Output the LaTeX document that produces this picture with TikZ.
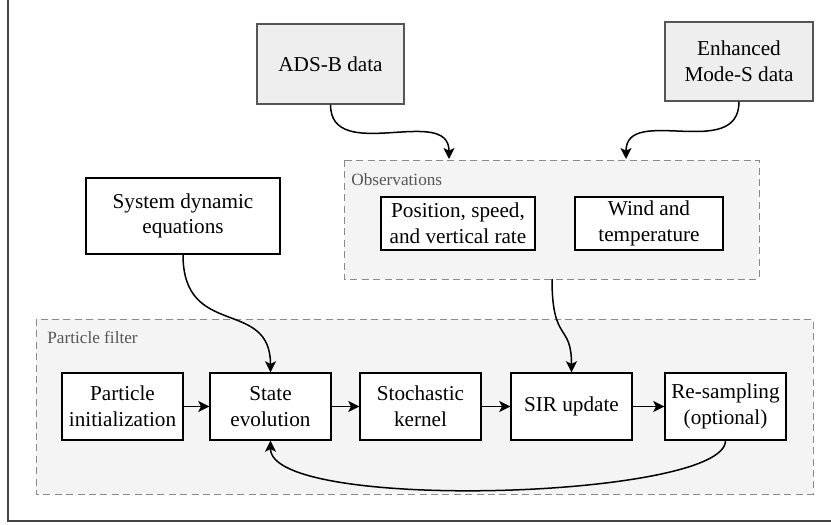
\documentclass[tikz,border=0pt]{standalone}
\usepackage{fontspec}
\setmainfont{Liberation Serif}
\usetikzlibrary{arrows.meta}
\definecolor{boxgray}{HTML}{EEEEEE}
\definecolor{grpfill}{HTML}{F4F4F4}
\definecolor{grpline}{HTML}{8A8A8A}
\definecolor{lblgray}{HTML}{555555}
\definecolor{framegray}{HTML}{444444}
\tikzset{
  box/.style={draw=black, fill=white, line width=0.7pt, align=center, inner sep=0pt,
    font=\fontsize{10.6}{12.8}\selectfont},
  srcbox/.style={box, draw=lblgray, fill=boxgray},
  group/.style={draw=grpline, fill=grpfill, dash pattern=on 3.5pt off 2.2pt, line width=0.45pt},
  grplabel/.style={text=lblgray, font=\fontsize{8.6}{10}\selectfont, anchor=north west, inner sep=0pt},
  conn/.style={-{Stealth[length=5.5pt, width=5.5pt, inset=1.3pt]}, line width=0.75pt, black},
  rowbox/.style={box, minimum width=60.5pt, minimum height=33.5pt},
}
\begin{document}
\begin{tikzpicture}[x=0.5pt, y=-0.5pt]
\useasboundingbox (0,0) rectangle (831,525);
% outer frame (only left and bottom edges visible)
\begin{scope}
\clip (0,0) rectangle (831,525);
\draw[framegray, line width=0.8pt] (8,-10) rectangle (845,521);
\end{scope}
% groups
\draw[group] (344,160) rectangle (759,279);
\node[grplabel] (obslbl) at (351,173) {Observations};
\draw[group] (36,319) rectangle (813,494);
\node[grplabel] (pflbl) at (47,331) {Particle filter};
% source boxes
\node[srcbox, minimum width=73.5pt, minimum height=40pt] (ads) at (330.5,64) {ADS-B data};
\node[srcbox, minimum width=74pt, minimum height=39.5pt] (ems) at (739,61.5) {Enhanced\\Mode-S data};
\node[box, minimum width=97pt, minimum height=38pt] (sde) at (183,216) {System dynamic\\equations};
% observation boxes
\node[box, minimum width=77pt, minimum height=26.5pt] (pos) at (458,223.5) {Position, speed,\\and vertical rate};
\node[box, minimum width=74pt, minimum height=26.5pt] (wind) at (649,223.5) {Wind and\\temperature};
% row
\node[rowbox] (pi) at (122.5,406.5) {Particle\\initialization};
\node[rowbox] (se) at (270.5,406.5) {State\\evolution};
\node[rowbox] (sk) at (420.5,406.5) {Stochastic\\kernel};
\node[rowbox] (sir) at (571.5,406.5) {SIR update};
\node[rowbox] (rs) at (725.5,406.5) {Re-sampling\\(optional)};
% group anchors
\coordinate (obsTopA) at (449,159);
\coordinate (obsTopB) at (626,159);
\coordinate (obsBot) at (552,279);
% connectors
\draw[conn] (ads.south) .. controls +(0,60) and +(0,-55) .. (obsTopA);
\draw[conn] (ems.south) .. controls +(0,60) and +(0,-55) .. (obsTopB);
\draw[conn] (sde.south) .. controls +(0,85) and +(0,-75) .. (se.north);
\draw[conn] (obsBot) .. controls +(0,65) and +(0,-50) .. (sir.north);
\draw[conn] (pi) -- (se);
\draw[conn] (se) -- (sk);
\draw[conn] (sk) -- (sir);
\draw[conn] (sir) -- (rs);
\draw[conn] (rs.south) .. controls +(0,58) and +(0,72) .. (se.south);
\end{tikzpicture}
\end{document}
